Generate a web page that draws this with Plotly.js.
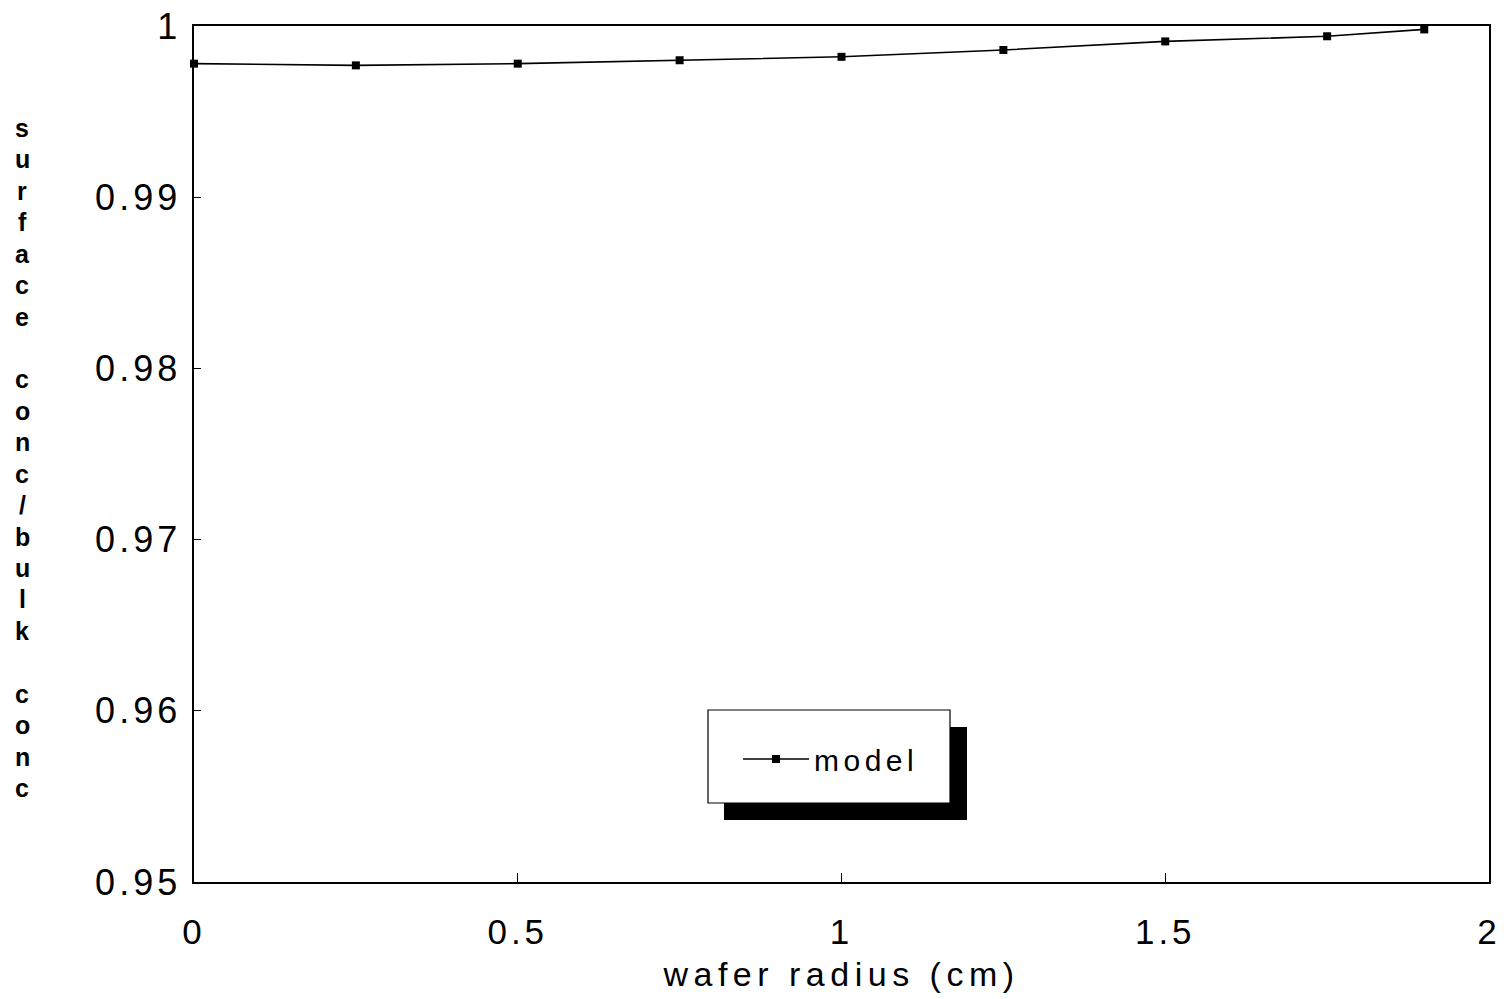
<!DOCTYPE html>
<html>
<head>
<meta charset="utf-8">
<script src="https://cdn.plot.ly/plotly-3.0.1.min.js"></script>
<style>
  html, body { margin: 0; padding: 0; background: #fff; }
  #chart { width: 1504px; height: 999px; }
  .xtick text, .ytick text { letter-spacing: 4px; }
  .xtitle { letter-spacing: 5.5px; }
  .legendtext { letter-spacing: 4.5px; }
</style>
</head>
<body>
<div id="chart"></div>
<script>
// Surface-to-bulk concentration ratio across the wafer radius
const waferRadius = [0, 0.25, 0.5, 0.75, 1.0, 1.25, 1.5, 1.75, 1.9];
const concRatio   = [0.9978, 0.9977, 0.9978, 0.9980, 0.9982, 0.9986, 0.9991, 0.9994, 0.9998];
const seriesName  = 'model';
const xTickVals   = [0, 0.5, 1, 1.5, 2];
const xTickText   = ['0', '0.5', '1', '1.5', '2'];
const yTickVals   = [0.95, 0.96, 0.97, 0.98, 0.99, 1];
const yTickText   = ['0.95', '0.96', '0.97', '0.98', '0.99', '1'];
const yTitleText  = 'surface conc/bulk conc';
const xTitleText  = 'wafer radius (cm)';

const W = 1504, H = 999;
const M = { l: 194, r: 15, t: 26, b: 117 };
const plotW = W - M.l - M.r, plotH = H - M.t - M.b;
// pixel -> paper helpers for decorations placed outside the data scale
const px = x => (x - M.l) / plotW;
const py = y => (H - M.b - y) / plotH;

// vertical, one-letter-per-line axis title
const yTitleAnnotations = Array.from(yTitleText).map((ch, i) => ({
  text: ch === ' ' ? '' : ch,
  xref: 'paper', yref: 'paper',
  x: px(22), y: py(128 + i * 31.43),
  xanchor: 'center', yanchor: 'middle',
  showarrow: false,
  font: { family: 'Liberation Sans, Arial, sans-serif', size: 25, color: '#000', weight: 'bold' }
}));

const trace = {
  x: waferRadius,
  y: concRatio,
  name: seriesName,
  type: 'scatter',
  mode: 'lines+markers',
  line: { color: '#000', width: 1.6 },
  marker: { symbol: 'square', size: 8, color: '#000', line: { color: '#000', width: 0 } },
  cliponaxis: false
};

const layout = {
  width: W, height: H,
  margin: M,
  paper_bgcolor: '#fff',
  plot_bgcolor: '#fff',
  font: { family: 'Liberation Sans, Arial, sans-serif', color: '#000' },
  showlegend: true,
  legend: {
    x: px(738), y: py(759),
    xanchor: 'left', yanchor: 'middle',
    bgcolor: 'rgba(0,0,0,0)', borderwidth: 0,
    itemwidth: 66,
    font: { size: 30, color: '#000' }
  },
  xaxis: {
    range: [0, 2],
    tickmode: 'array', tickvals: xTickVals, ticktext: xTickText,
    ticks: 'inside', ticklen: 9, tickwidth: 1, tickcolor: '#000',
    showline: true, linecolor: '#000', linewidth: 1.6, mirror: true,
    showgrid: false, zeroline: false,
    tickfont: { size: 35, color: '#000' },
    ticklabelstandoff: 18,
    title: { text: xTitleText, font: { size: 34, color: '#000' }, standoff: 12 },
    automargin: false
  },
  yaxis: {
    range: [0.95, 1.0],
    tickmode: 'array', tickvals: yTickVals, ticktext: yTickText,
    ticks: 'inside', ticklen: 7, tickwidth: 1, tickcolor: '#000',
    showline: true, linecolor: '#000', linewidth: 1.6, mirror: true,
    showgrid: false, zeroline: false,
    tickfont: { size: 36, color: '#000' },
    ticklabelstandoff: 4,
    automargin: false
  },
  shapes: [
    // legend drop shadow
    { type: 'rect', xref: 'paper', yref: 'paper',
      x0: px(724), x1: px(967), y0: py(820), y1: py(727),
      fillcolor: '#000', line: { width: 0 }, layer: 'above' },
    // legend frame
    { type: 'rect', xref: 'paper', yref: 'paper',
      x0: px(708), x1: px(950), y0: py(803), y1: py(710),
      fillcolor: '#fff', line: { color: '#000', width: 1.2 }, layer: 'above' }
  ],
  annotations: yTitleAnnotations
};

Plotly.newPlot('chart', [trace], layout, { displayModeBar: false, staticPlot: true });
</script>
</body>
</html>
